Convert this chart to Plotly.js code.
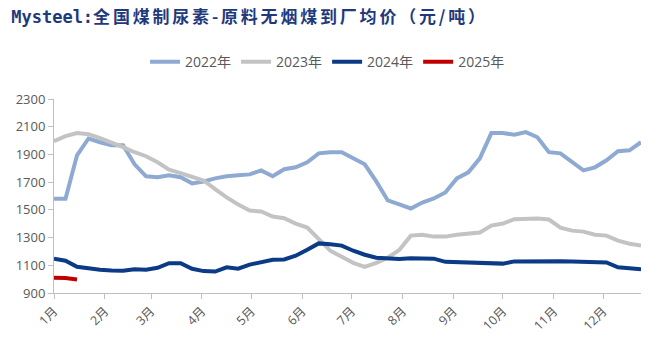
<!DOCTYPE html>
<html>
<head>
<meta charset="utf-8">
<script src="https://cdn.plot.ly/plotly-3.0.1.min.js"></script>
<style>html,body{margin:0;padding:0;background:#fff;}#chart{width:660px;height:352px;}</style>
</head>
<body>
<div id="chart"></div>
<script>
// Weekly observation dates (plotted on a common calendar year)
const weekDates = ["01-01","01-08","01-15","01-22","01-29","02-05","02-12","02-19","02-26","03-05","03-12","03-19","03-26","04-02","04-09","04-16","04-23","04-30","05-07","05-14","05-21","05-28","06-04","06-11","06-18","06-25","07-02","07-09","07-16","07-23","07-30","08-06","08-13","08-20","08-27","09-03","09-10","09-17","09-24","10-01","10-08","10-15","10-22","10-29","11-05","11-12","11-19","11-26","12-03","12-10","12-17","12-24"];

const seriesNames = ["2022年","2023年","2024年","2025年"];

const v2022 = [1580,1580,1894,2015,1988,1966,1966,1829,1742,1735,1749,1735,1691,1705,1727,1742,1749,1756,1785,1742,1793,1807,1843,1908,1916,1916,1872,1829,1705,1568,1539,1510,1553,1582,1626,1727,1771,1872,2054,2054,2042,2061,2024,1916,1908,1843,1785,1807,1858,1923,1930,1988];

const v2023 = [1996,2032,2055,2046,2017,1988,1952,1916,1887,1843,1790,1765,1738,1712,1650,1590,1539,1495,1488,1452,1440,1401,1372,1285,1205,1162,1118,1089,1118,1155,1210,1314,1321,1307,1307,1321,1329,1336,1386,1401,1433,1437,1437,1430,1372,1350,1343,1321,1314,1278,1256,1242];

const v2024 = [1147,1133,1089,1075,1068,1063,1060,1072,1068,1082,1115,1115,1075,1058,1055,1085,1075,1105,1125,1140,1142,1169,1212,1258,1252,1242,1205,1176,1155,1150,1145,1150,1150,1148,1125,1122,1115,1112,1112,1112,1128,1130,1132,1132,1130,1128,1127,1125,1120,1085,1080,1072];

const v2025 = [1010,1008,998];

const monthStarts = ["01-01","02-01","03-01","04-01","05-01","06-01","07-01","08-01","09-01","10-01","11-01","12-01"];
const monthLabels = ["1月","2月","3月","4月","5月","6月","7月","8月","9月","10月","11月","12月"];

const yTicks = [900,1100,1300,1500,1700,1900,2100,2300];

const calYear = "2023-";
const xs = weekDates.map(d => calYear + d);
const colors = ["#8eaad2","#c3c3c3","#0b3a86","#c00000"];
const allVals = [v2022, v2023, v2024, v2025];

const traces = allVals.map((vals, i) => ({
  type: "scatter",
  mode: "lines",
  name: seriesNames[i],
  x: xs.slice(0, vals.length),
  y: vals,
  line: {color: colors[i], width: 4},
  hoverinfo: "x+y+name"
}));

const layout = {
  width: 660,
  height: 352,
  margin: {l: 54, r: 19, t: 99, b: 59},
  paper_bgcolor: "#ffffff",
  plot_bgcolor: "#ffffff",
  title: {
    text: "<b><span style=\"font-family:DejaVu Sans Mono\">Mysteel:</span><span style=\"letter-spacing:2.8px\">全国煤制尿素-原料无烟煤到厂均价（元/吨）</span></b>",
    x: 0.017, xanchor: "left", xref: "container",
    y: 0.952, yanchor: "middle", yref: "container",
    font: {family: "Noto Sans CJK SC", size: 17, color: "#1f3a7c"}
  },
  showlegend: true,
  legend: {
    orientation: "h",
    x: 0.466, xanchor: "center",
    y: 1.19, yanchor: "middle",
    font: {family: "Open Sans, Noto Sans CJK SC", size: 14, color: "#595959"},
    bgcolor: "rgba(0,0,0,0)",
    itemwidth: 30
  },
  xaxis: {
    type: "date",
    range: [xs[0], xs[xs.length - 1]],
    tickmode: "array",
    tickvals: monthStarts.map(d => calYear + d),
    ticktext: monthLabels,
    tickangle: -45,
    ticks: "outside",
    ticklen: 5,
    tickcolor: "#bfbfbf",
    showline: true,
    linecolor: "#bfbfbf",
    linewidth: 1,
    showgrid: false,
    zeroline: false,
    tickfont: {family: "Open Sans, Noto Sans CJK SC", size: 12.5, color: "#595959"}
  },
  yaxis: {
    range: [900, 2300],
    tickmode: "array",
    tickvals: yTicks,
    ticktext: yTicks.map(String),
    ticks: "outside",
    ticklen: 5,
    tickcolor: "#bfbfbf",
    showline: true,
    linecolor: "#bfbfbf",
    linewidth: 1,
    showgrid: false,
    zeroline: false,
    tickfont: {family: "Open Sans", size: 13, color: "#595959"}
  }
};

Plotly.newPlot("chart", traces, layout, {displayModeBar: false, staticPlot: true});
</script>
</body>
</html>
